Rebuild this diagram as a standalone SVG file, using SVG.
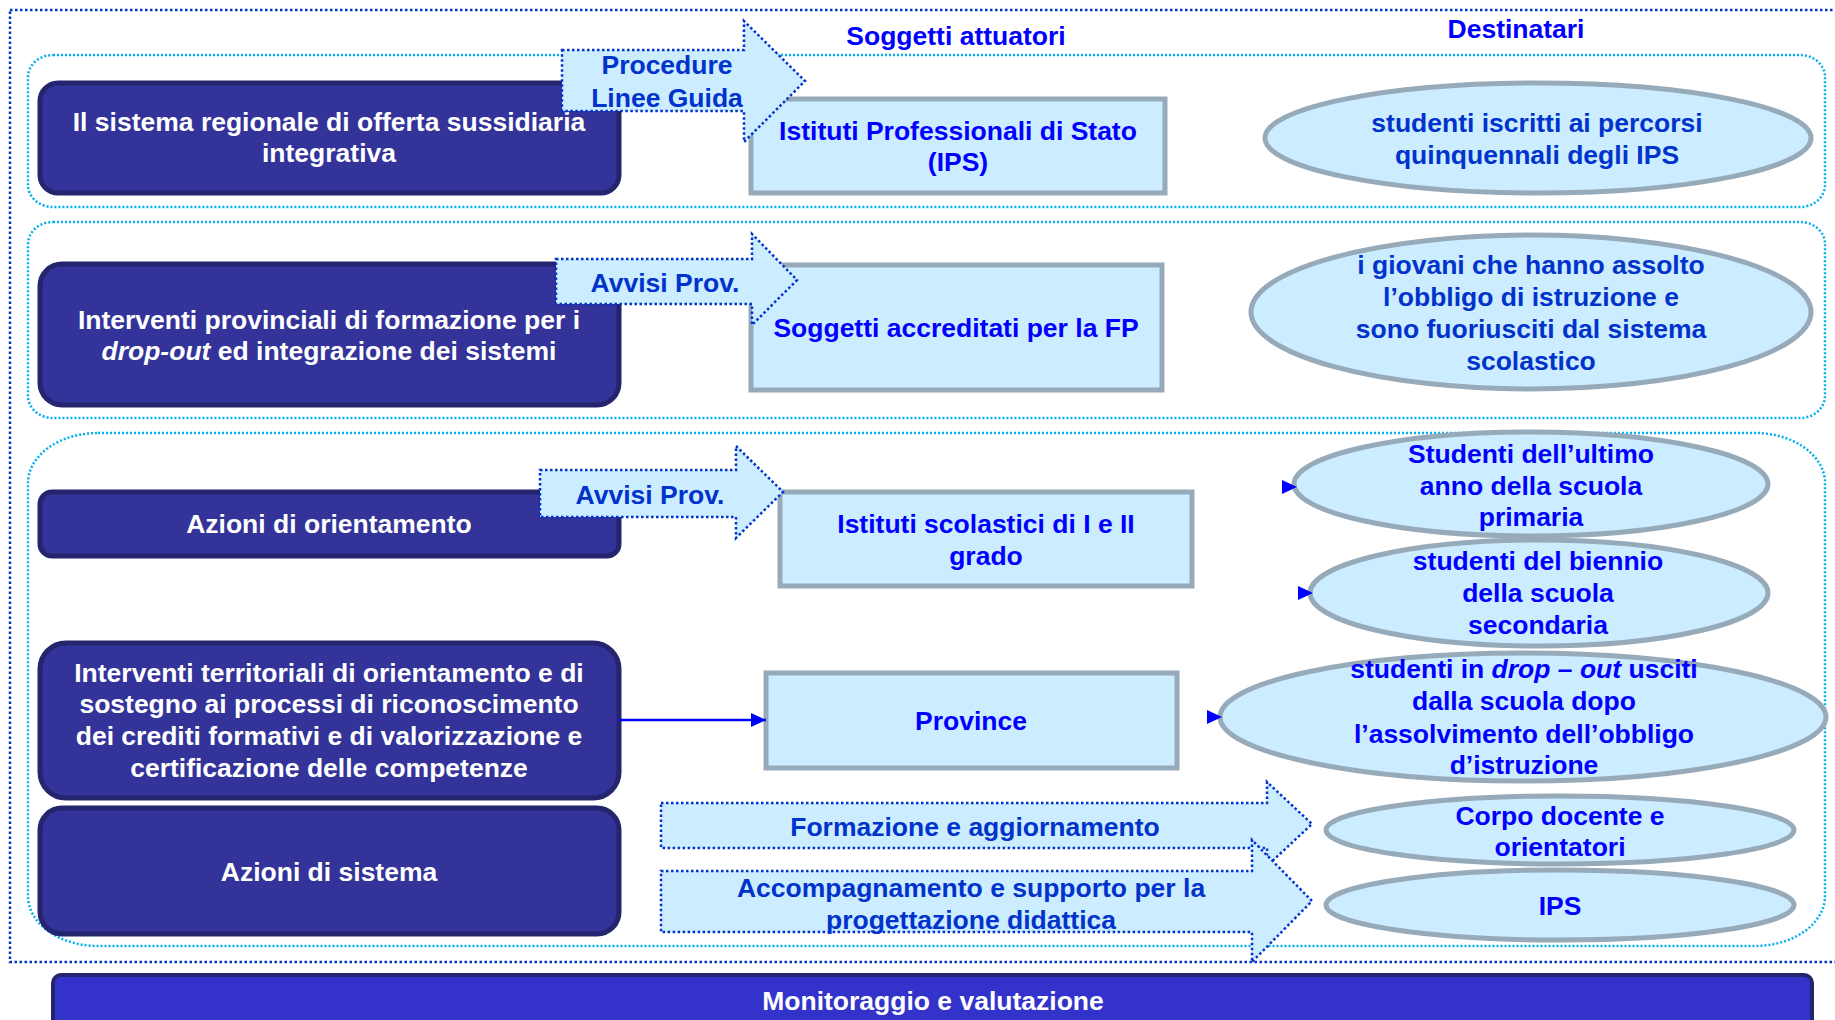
<svg xmlns="http://www.w3.org/2000/svg" width="1835" height="1020" viewBox="0 0 1835 1020">
<style>
text{font-family:"Liberation Sans",Arial,sans-serif;font-weight:bold;font-size:26.5px;text-anchor:middle}
.wt{fill:#FFFFFF}
.bt{fill:#0000FF}
.dt{fill:#0033CC}
.lbox{fill:#333399;stroke:#25256F;stroke-width:5}
.mbox{fill:#CCECFF;stroke:#97AABA;stroke-width:5}
.ell{fill:#CCECFF;stroke:#97AABA;stroke-width:5}
.barrow{fill:#CCECFF;stroke:#0033CC;stroke-width:2.5;stroke-dasharray:2.5 2.5}
.grp{fill:none;stroke:#00B0F0;stroke-width:2.5;stroke-dasharray:2 2}
.outer{fill:none;stroke:#0033CC;stroke-width:2.5;stroke-dasharray:2.5 2.5}
</style>
<defs>
<marker id="ah" markerWidth="15" markerHeight="14" refX="15" refY="7" orient="auto" markerUnits="userSpaceOnUse" viewBox="0 0 15 14">
<path d="M0,0 L15,7 L0,14 Z" fill="#0000FF"/>
</marker>
</defs>
<rect width="1835" height="1020" fill="#FFFFFF"/>

<g id="frame">
<rect class="outer" x="10" y="10" width="1840" height="952"/>
<rect class="grp" x="28" y="55" width="1797" height="152" rx="25" ry="22"/>
<rect class="grp" x="28" y="222" width="1797" height="196" rx="25" ry="22"/>
<rect class="grp" x="28" y="433" width="1797" height="513" rx="70" ry="50"/>
</g>

<g id="headers">
<text class="bt" x="956" y="45">Soggetti attuatori</text>
<text class="bt" x="1516" y="38">Destinatari</text>
</g>

<g id="node-sistema-regionale">
<rect class="lbox" x="40" y="83" width="579" height="110" rx="18"/>
<text class="wt" x="329" y="131">Il sistema regionale di offerta sussidiaria</text>
<text class="wt" x="329" y="162">integrativa</text>
</g>
<g id="node-interventi-provinciali">
<rect class="lbox" x="40" y="264" width="579" height="141" rx="22"/>
<text class="wt" x="329" y="329">Interventi provinciali di formazione per i</text>
<text class="wt" x="329" y="360"><tspan font-style="italic">drop-out</tspan> ed integrazione dei sistemi</text>
</g>
<g id="node-azioni-orientamento">
<rect class="lbox" x="40" y="492" width="579" height="64" rx="12"/>
<text class="wt" x="329" y="533">Azioni di orientamento</text>
</g>
<g id="node-interventi-territoriali">
<rect class="lbox" x="40" y="643" width="579" height="155" rx="26"/>
<text class="wt" x="329" y="682">Interventi territoriali di orientamento e di</text>
<text class="wt" x="329" y="713">sostegno ai processi di riconoscimento</text>
<text class="wt" x="329" y="745">dei crediti formativi e di valorizzazione e</text>
<text class="wt" x="329" y="777">certificazione delle competenze</text>
</g>
<g id="node-azioni-sistema">
<rect class="lbox" x="40" y="808" width="579" height="126" rx="22"/>
<text class="wt" x="329" y="881">Azioni di sistema</text>
</g>

<g id="node-ips-box">
<rect class="mbox" x="751" y="99" width="414" height="94"/>
<text class="bt" x="958" y="140">Istituti Professionali di Stato</text>
<text class="bt" x="958" y="171">(IPS)</text>
</g>
<g id="node-soggetti-accreditati">
<rect class="mbox" x="751" y="265" width="411" height="125"/>
<text class="bt" x="956" y="337">Soggetti accreditati per la FP</text>
</g>
<g id="node-istituti-scolastici">
<rect class="mbox" x="780" y="492" width="412" height="94"/>
<text class="bt" x="986" y="533">Istituti scolastici di I e II</text>
<text class="bt" x="986" y="565">grado</text>
</g>
<g id="node-province">
<rect class="mbox" x="766" y="673" width="411" height="95"/>
<text class="bt" x="971" y="730">Province</text>
</g>

<g id="node-studenti-ips">
<ellipse class="ell" cx="1538" cy="138" rx="273" ry="55"/>
<text class="dt" x="1537" y="132">studenti iscritti ai percorsi</text>
<text class="dt" x="1537" y="164">quinquennali degli IPS</text>
</g>
<g id="node-giovani">
<ellipse class="ell" cx="1531" cy="312" rx="280" ry="77"/>
<text class="dt" x="1531" y="274">i giovani che hanno assolto</text>
<text class="dt" x="1531" y="306">l’obbligo di istruzione e</text>
<text class="dt" x="1531" y="338">sono fuoriusciti dal sistema</text>
<text class="dt" x="1531" y="370">scolastico</text>
</g>
<g id="node-primaria">
<ellipse class="ell" cx="1531" cy="484" rx="237" ry="52"/>
<text class="bt" x="1531" y="463">Studenti dell’ultimo</text>
<text class="bt" x="1531" y="495">anno della scuola</text>
<text class="bt" x="1531" y="526">primaria</text>
</g>
<g id="node-biennio">
<ellipse class="ell" cx="1539" cy="593" rx="229" ry="53"/>
<text class="bt" x="1538" y="570">studenti del biennio</text>
<text class="bt" x="1538" y="602">della scuola</text>
<text class="bt" x="1538" y="634">secondaria</text>
</g>
<g id="node-dropout">
<ellipse class="ell" cx="1523" cy="717" rx="303" ry="64"/>
<text class="bt" x="1524" y="678">studenti in <tspan font-style="italic">drop – out</tspan> usciti</text>
<text class="bt" x="1524" y="710">dalla scuola dopo</text>
<text class="bt" x="1524" y="743">l’assolvimento dell’obbligo</text>
<text class="bt" x="1524" y="774">d’istruzione</text>
</g>
<g id="node-corpo-docente">
<ellipse class="ell" cx="1560" cy="830" rx="234" ry="34"/>
<text class="bt" x="1560" y="825">Corpo docente e</text>
<text class="bt" x="1560" y="856">orientatori</text>
</g>
<g id="node-ips-dest">
<ellipse class="ell" cx="1560" cy="905" rx="234" ry="35"/>
<text class="bt" x="1560" y="915">IPS</text>
</g>

<g id="node-arrow-procedure">
<path class="barrow" d="M562,50 H744 V21 L805,81 L744,142 V111 H562 Z"/>
<text class="dt" x="667" y="74">Procedure</text>
<text class="dt" x="667" y="107">Linee Guida</text>
</g>
<g id="node-arrow-avvisi-1">
<path class="barrow" d="M556,259 H752 V234 L797,280 L752,325 V304 H556 Z"/>
<text class="dt" x="665" y="292">Avvisi Prov.</text>
</g>
<g id="node-arrow-avvisi-2">
<path class="barrow" d="M540,470 H736 V446 L783,492 L736,538 V517 H540 Z"/>
<text class="dt" x="650" y="504">Avvisi Prov.</text>
</g>
<g id="node-arrow-formazione">
<path class="barrow" d="M661,803 H1267 V782 L1312,824 L1267,866 V848 H661 Z"/>
<text class="dt" x="975" y="836">Formazione e aggiornamento</text>
</g>
<g id="node-arrow-accompagnamento">
<path class="barrow" d="M661,871 H1252 V840 L1312,901 L1252,962 V932 H661 Z"/>
<text class="dt" x="971" y="897">Accompagnamento e supporto per la</text>
<text class="dt" x="971" y="929">progettazione didattica</text>
</g>

<g id="node-monitoraggio">
<rect x="53" y="975" width="1759" height="60" rx="8" fill="#3333CC" stroke="#25256F" stroke-width="4"/>
<text class="wt" x="933" y="1010">Monitoraggio e valutazione</text>
</g>

<g id="connectors">
<line x1="619" y1="720" x2="766" y2="720" stroke="#0000FF" stroke-width="2.5" marker-end="url(#ah)"/>
<path d="M1282,480 L1297,487 L1282,494 Z" fill="#0000FF"/>
<path d="M1298,586 L1313,593 L1298,600 Z" fill="#0000FF"/>
<path d="M1207,710 L1222,717 L1207,724 Z" fill="#0000FF"/>
</g>
</svg>
